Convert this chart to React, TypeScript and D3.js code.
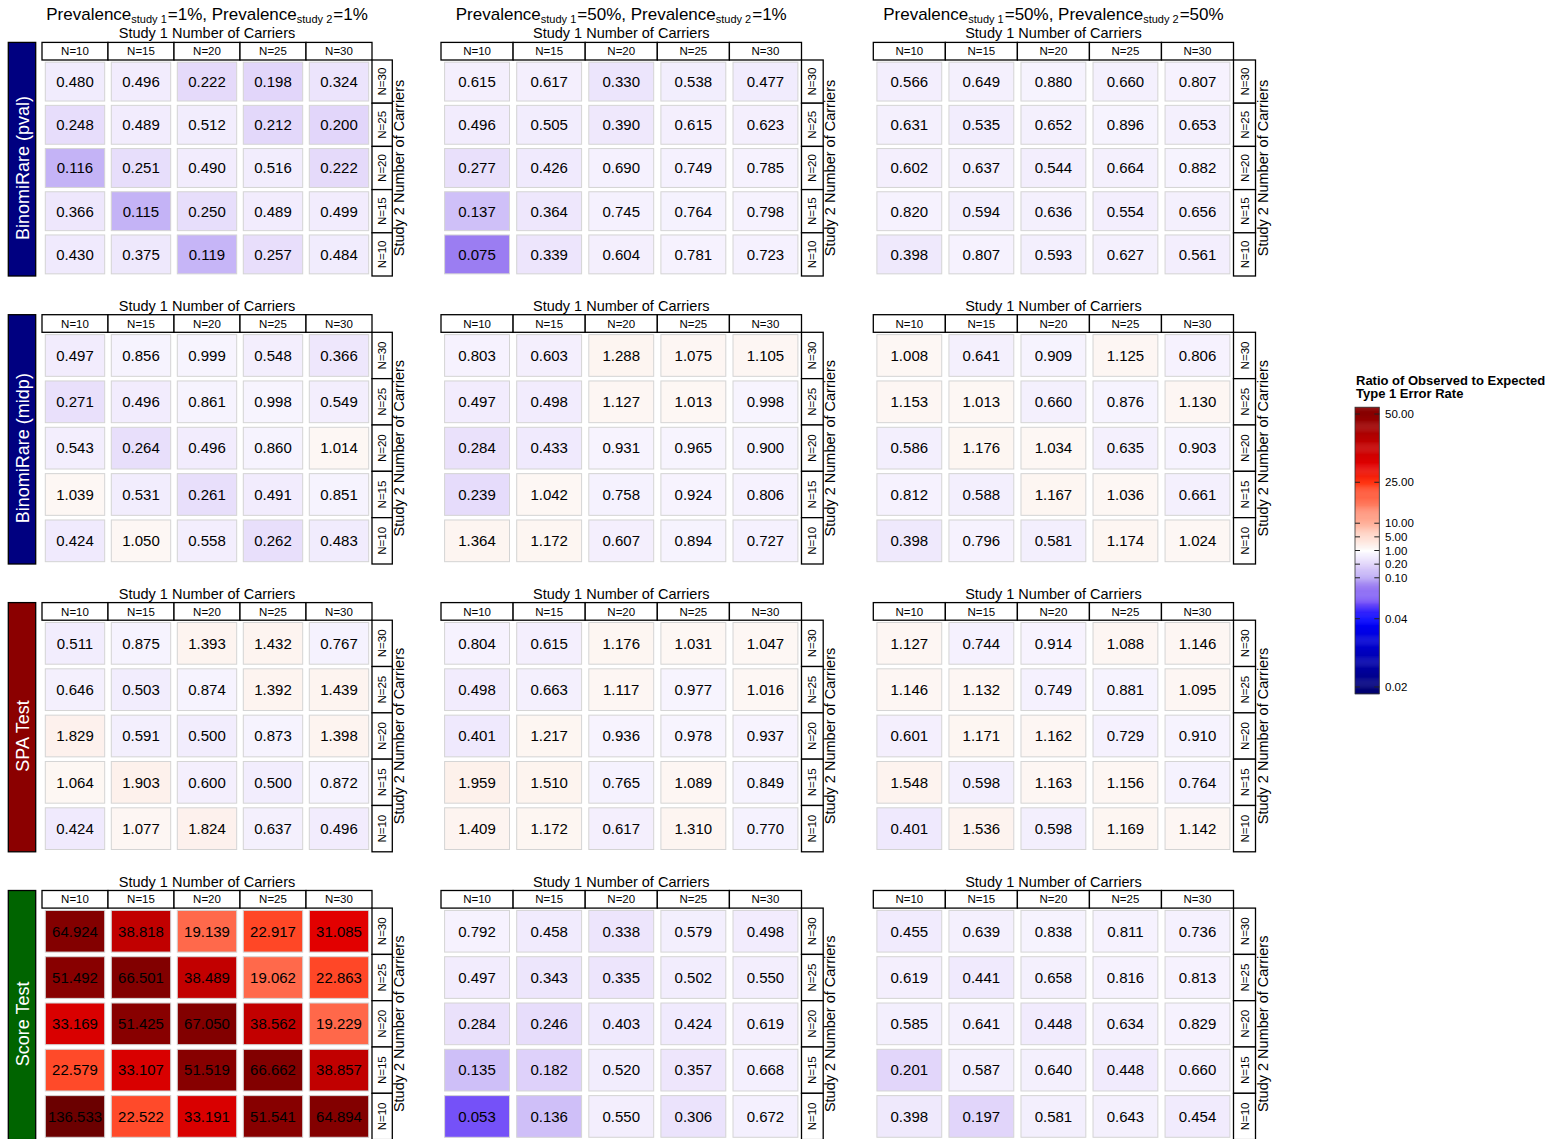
import React from "react";
import * as d3 from "d3";

// Study 1 carriers run along columns, study 2 carriers down the rows (top = N=30)
const study1Carriers = ["N=10", "N=15", "N=20", "N=25", "N=30"];
const study2Carriers = ["N=30", "N=25", "N=20", "N=15", "N=10"];

const methodNames = ["BinomiRare (pval)", "BinomiRare (midp)", "SPA Test", "Score Test"];
const methodFills = ["#000080", "#000080", "#8b0000", "#006400"];

const prevalenceStudy1 = ["1%", "50%", "50%"];
const prevalenceStudy2 = ["1%", "1%", "50%"];

// Ratio of observed to expected type 1 error, one grid per method x prevalence setting
const pvalPrev1_1 = [
  [0.480, 0.496, 0.222, 0.198, 0.324],
  [0.248, 0.489, 0.512, 0.212, 0.200],
  [0.116, 0.251, 0.490, 0.516, 0.222],
  [0.366, 0.115, 0.250, 0.489, 0.499],
  [0.430, 0.375, 0.119, 0.257, 0.484],
];
const pvalPrev50_1 = [
  [0.615, 0.617, 0.330, 0.538, 0.477],
  [0.496, 0.505, 0.390, 0.615, 0.623],
  [0.277, 0.426, 0.690, 0.749, 0.785],
  [0.137, 0.364, 0.745, 0.764, 0.798],
  [0.075, 0.339, 0.604, 0.781, 0.723],
];
const pvalPrev50_50 = [
  [0.566, 0.649, 0.880, 0.660, 0.807],
  [0.631, 0.535, 0.652, 0.896, 0.653],
  [0.602, 0.637, 0.544, 0.664, 0.882],
  [0.820, 0.594, 0.636, 0.554, 0.656],
  [0.398, 0.807, 0.593, 0.627, 0.561],
];
const midpPrev1_1 = [
  [0.497, 0.856, 0.999, 0.548, 0.366],
  [0.271, 0.496, 0.861, 0.998, 0.549],
  [0.543, 0.264, 0.496, 0.860, 1.014],
  [1.039, 0.531, 0.261, 0.491, 0.851],
  [0.424, 1.050, 0.558, 0.262, 0.483],
];
const midpPrev50_1 = [
  [0.803, 0.603, 1.288, 1.075, 1.105],
  [0.497, 0.498, 1.127, 1.013, 0.998],
  [0.284, 0.433, 0.931, 0.965, 0.900],
  [0.239, 1.042, 0.758, 0.924, 0.806],
  [1.364, 1.172, 0.607, 0.894, 0.727],
];
const midpPrev50_50 = [
  [1.008, 0.641, 0.909, 1.125, 0.806],
  [1.153, 1.013, 0.660, 0.876, 1.130],
  [0.586, 1.176, 1.034, 0.635, 0.903],
  [0.812, 0.588, 1.167, 1.036, 0.661],
  [0.398, 0.796, 0.581, 1.174, 1.024],
];
const spaPrev1_1 = [
  [0.511, 0.875, 1.393, 1.432, 0.767],
  [0.646, 0.503, 0.874, 1.392, 1.439],
  [1.829, 0.591, 0.500, 0.873, 1.398],
  [1.064, 1.903, 0.600, 0.500, 0.872],
  [0.424, 1.077, 1.824, 0.637, 0.496],
];
const spaPrev50_1 = [
  [0.804, 0.615, 1.176, 1.031, 1.047],
  [0.498, 0.663, 1.117, 0.977, 1.016],
  [0.401, 1.217, 0.936, 0.978, 0.937],
  [1.959, 1.510, 0.765, 1.089, 0.849],
  [1.409, 1.172, 0.617, 1.310, 0.770],
];
const spaPrev50_50 = [
  [1.127, 0.744, 0.914, 1.088, 1.146],
  [1.146, 1.132, 0.749, 0.881, 1.095],
  [0.601, 1.171, 1.162, 0.729, 0.910],
  [1.548, 0.598, 1.163, 1.156, 0.764],
  [0.401, 1.536, 0.598, 1.169, 1.142],
];
const scorePrev1_1 = [
  [64.924, 38.818, 19.139, 22.917, 31.085],
  [51.492, 66.501, 38.489, 19.062, 22.863],
  [33.169, 51.425, 67.050, 38.562, 19.229],
  [22.579, 33.107, 51.519, 66.662, 38.857],
  [136.533, 22.522, 33.191, 51.541, 64.894],
];
const scorePrev50_1 = [
  [0.792, 0.458, 0.338, 0.579, 0.498],
  [0.497, 0.343, 0.335, 0.502, 0.550],
  [0.284, 0.246, 0.403, 0.424, 0.619],
  [0.135, 0.182, 0.520, 0.357, 0.668],
  [0.053, 0.136, 0.550, 0.306, 0.672],
];
const scorePrev50_50 = [
  [0.455, 0.639, 0.838, 0.811, 0.736],
  [0.619, 0.441, 0.658, 0.816, 0.813],
  [0.585, 0.641, 0.448, 0.634, 0.829],
  [0.201, 0.587, 0.640, 0.448, 0.660],
  [0.398, 0.197, 0.581, 0.643, 0.454],
];

const grids = [
  [pvalPrev1_1, pvalPrev50_1, pvalPrev50_50],
  [midpPrev1_1, midpPrev50_1, midpPrev50_50],
  [spaPrev1_1, spaPrev50_1, spaPrev50_50],
  [scorePrev1_1, scorePrev50_1, scorePrev50_50],
];

const legendBreaks = [50, 25, 10, 5, 1, 0.2, 0.1, 0.04, 0.02];

// ratios above 1 keep their value, ratios below 1 are mirrored as -1/ratio
const ratioToScale = (v: number) => (v > 1 ? v : v < 1 ? -1 / v : 0);

const colorScale = d3
  .scaleLinear<string>()
  .domain([-52.5, -25, -19, -13, -10, -5, -1, 0, 1, 5, 10, 19, 25, 31, 40, 50, 140])
  .range([
    "#00006c", "#0000ff", "#7450f8", "#9d80f2", "#b9a6f5", "#e2d6fa", "#f7f4fe", "#ffffff",
    "#fdf7f4", "#ffdcd0", "#ffb29c", "#ff6a4c", "#ff3412", "#e20000", "#bc0000", "#880000", "#6a0000",
  ])
  .interpolate(d3.interpolateRgb)
  .clamp(true);

const FONT = "'Liberation Sans', Arial, Helvetica, sans-serif";

const panelCols = [
  { x0: 42, x1: 372, rs: 20.3, lab: 404 },
  { x0: 441, x1: 801.5, rs: 21.7, lab: 835 },
  { x0: 873.3, x1: 1233.5, rs: 22, lab: 1268 },
];
const panelRows = [
  { y0: 60, y1: 276 },
  { y0: 332.3, y1: 564 },
  { y0: 620.2, y1: 851.8 },
  { y0: 908.1, y1: 1139.6 },
];
const STRIP_H = 17.6;

function Panel({ ri, ci }: { ri: number; ci: number }) {
  const { x0, x1, rs, lab } = panelCols[ci];
  const { y0, y1 } = panelRows[ri];
  const data = grids[ri][ci];

  const x = d3.scaleBand().domain(study1Carriers).range([x0, x1]).paddingInner(0.1).paddingOuter(0.05);
  const y = d3.scaleBand().domain(study2Carriers).range([y0, y1]).paddingInner(0.1).paddingOuter(0.05);
  const xs = d3.scaleBand().domain(study1Carriers).range([x0, x1]);
  const ys = d3.scaleBand().domain(study2Carriers).range([y0, y1]);

  const cx = (x0 + x1) / 2;
  const cy = (y0 + y1) / 2;

  return (
    <g>
      {/* top strip */}
      {study1Carriers.map((n) => (
        <g key={"t" + n}>
          <rect x={xs(n)} y={y0 - STRIP_H} width={xs.bandwidth()} height={STRIP_H} fill="#fff" stroke="#000" strokeWidth={1.3} />
          <text x={(xs(n) as number) + xs.bandwidth() / 2} y={y0 - STRIP_H / 2 + 4.1} textAnchor="middle" fontSize={11.5}>
            {n}
          </text>
        </g>
      ))}
      {/* right strip */}
      {study2Carriers.map((n) => {
        const my = (ys(n) as number) + ys.bandwidth() / 2;
        return (
          <g key={"r" + n}>
            <rect x={x1} y={ys(n)} width={rs} height={ys.bandwidth()} fill="#fff" stroke="#000" strokeWidth={1.3} />
            <text transform={`translate(${x1 + rs / 2 + 4.1},${my}) rotate(-90)`} textAnchor="middle" fontSize={11.5}>
              {n}
            </text>
          </g>
        );
      })}
      {/* tiles */}
      {study2Carriers.map((r, i) =>
        study1Carriers.map((c, j) => {
          const v = data[i][j];
          return (
            <g key={r + c}>
              <rect x={x(c)} y={y(r)} width={x.bandwidth()} height={y.bandwidth()} fill={colorScale(ratioToScale(v))} stroke="#d4d4d4" strokeWidth={1} />
              <text x={(x(c) as number) + x.bandwidth() / 2} y={(y(r) as number) + y.bandwidth() / 2 + 5.3} textAnchor="middle" fontSize={15}>
                {v.toFixed(3)}
              </text>
            </g>
          );
        })
      )}
      <text x={cx} y={y0 - STRIP_H - 4} textAnchor="middle" fontSize={14.5}>
        Study 1 Number of Carriers
      </text>
      <text transform={`translate(${lab},${cy}) rotate(-90)`} textAnchor="middle" fontSize={14.5}>
        Study 2 Number of Carriers
      </text>
      {ri === 0 && (
        <text x={cx} y={20} textAnchor="middle" fontSize={17}>
          Prevalence
          <tspan fontSize={11} dy={3.2}>study 1</tspan>
          <tspan dy={-3.2} dx={1}>={prevalenceStudy1[ci]}, Prevalence</tspan>
          <tspan fontSize={11} dy={3.2}>study 2</tspan>
          <tspan dy={-3.2} dx={1}>={prevalenceStudy2[ci]}</tspan>
        </text>
      )}
    </g>
  );
}

function Legend() {
  const bx = 1355;
  const bw = 24.3;
  const yScale = d3.scaleLinear().domain([-52.5, 52.5]).range([693.8, 407.2]);
  const bins = d3.range(-52.5, 52.5, 0.35);
  return (
    <g>
      <text x={1356} y={385} fontSize={13} fontWeight="bold">Ratio of Observed to Expected</text>
      <text x={1356} y={397.5} fontSize={13} fontWeight="bold">Type 1 Error Rate</text>
      {bins.map((b) => (
        <rect key={b} x={bx} y={yScale(b + 0.35)} width={bw} height={yScale(b) - yScale(b + 0.35) + 0.4} fill={colorScale(b + 0.175)} />
      ))}
      <rect x={bx} y={yScale(52.5)} width={bw} height={yScale(-52.5) - yScale(52.5)} fill="none" stroke="#333" strokeWidth={0.8} />
      {legendBreaks.map((v) => {
        const ty = yScale(ratioToScale(v));
        return (
          <g key={v}>
            <line x1={bx} x2={bx + 5} y1={ty} y2={ty} stroke="#222" strokeWidth={1} />
            <line x1={bx + bw - 5} x2={bx + bw} y1={ty} y2={ty} stroke="#222" strokeWidth={1} />
            <text x={1385} y={ty + 4} fontSize={11.5}>{v.toFixed(2)}</text>
          </g>
        );
      })}
    </g>
  );
}

export default function App() {
  return (
    <div style={{ position: "absolute", left: 0, top: 0, width: 1553, height: 1139, overflow: "hidden" }}>
      <svg width={1553} height={1139} style={{ display: "block", fontFamily: FONT }}>
        <rect width={1553} height={1139} fill="#fff" />
        {methodNames.map((m, ri) => {
          const { y0, y1 } = panelRows[ri];
          const top = y0 - STRIP_H;
          return (
            <g key={m}>
              <rect x={8.3} y={top} width={27.4} height={y1 - top} fill={methodFills[ri]} stroke="#000" strokeWidth={1.3} />
              <text transform={`translate(28.5,${(y0 + y1) / 2}) rotate(-90)`} textAnchor="middle" fontSize={18} fill="#fff">
                {m}
              </text>
            </g>
          );
        })}
        {grids.map((row, ri) => row.map((_, ci) => <Panel key={ri + "-" + ci} ri={ri} ci={ci} />))}
        <Legend />
      </svg>
    </div>
  );
}
